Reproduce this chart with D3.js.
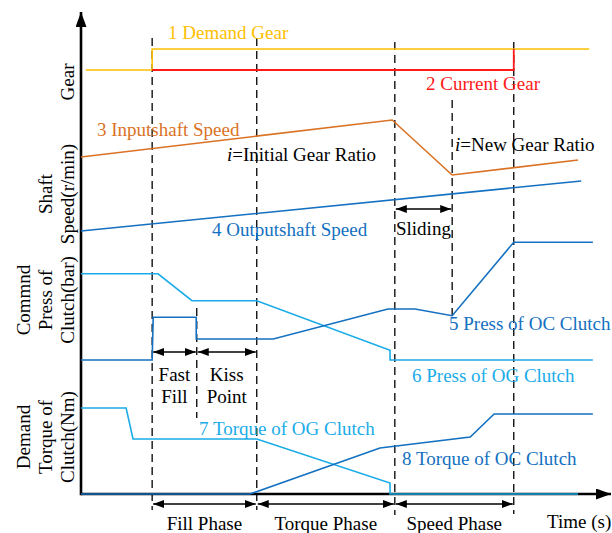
<!DOCTYPE html>
<html>
<head>
<meta charset="utf-8">
<script src="https://cdn.jsdelivr.net/npm/d3@7"></script>
<style>
  html, body { margin: 0; padding: 0; background: #fff; }
  svg { display: block; font-family: "Liberation Serif", "Times New Roman", serif; }
  svg text { font-family: "Liberation Serif", "Times New Roman", serif; }
</style>
</head>
<body>
<svg id="chart" width="612" height="533"></svg>
<script>
// Time is in arbitrary units (0..100) along the shift sequence.
const phaseBounds = [13.4, 33.1, 59.1, 81.5];   // fill start, torque start, speed start, speed end
const kissPointStart = 21.8;
const slidingEnd = 69.9;

// Gear panel
const demandGear = [[0.9, 1], [13.4, 1], [13.4, 2], [95.7, 2]];
const currentGear = [[13.4, 1], [81.5, 1], [81.5, 2]];

// Shaft speed panel (r/min)
const inputShaftSpeed = [[0, 2060], [58.6, 2800], [69.9, 1700], [93.6, 2000]];
const outputShaftSpeed = [[0, 580], [94.2, 1580]];

// Command pressure panel (bar)
const pressOG = [[0, 11.5], [14.5, 11.5], [20.9, 7.9], [33.1, 7.9], [58.2, 1.3], [58.2, 0], [96.4, 0]];
const pressOC = [[0, 0], [13.4, 0], [13.6, 5.7], [21.7, 5.7], [21.7, 2.8], [36.2, 2.8], [57.8, 6.8],
                 [62.9, 6.8], [69.9, 5.9], [81.5, 15.7], [96.4, 15.7]];

// Demand torque panel (Nm)
const torqueOG = [[0, 86], [8.5, 86], [9.8, 55], [33.1, 55], [58.2, 11], [58.2, 0], [93.6, 0]];
const torqueOC = [[0, 0], [31.8, 0], [56.3, 46], [73.3, 57], [77.8, 80], [96.4, 80]];

const phaseNames = ["Fill Phase", "Torque Phase", "Speed Phase"];

const C = {
  yellow: "#FFC000",
  red: "#FF1A1A",
  orange: "#DA7225",
  blue: "#1470C0",
  cyan: "#1AACE8"
};

const svg = d3.select("#chart");
const FS = 19;

const x = d3.scaleLinear().domain([0, 100]).range([81, 612]);
const yGear = d3.scaleLinear().domain([0, 3]).range([91, 28]);
const ySpeed = d3.scaleLinear().domain([0, 3000]).range([260, 110]);
const yPress = d3.scaleLinear().domain([0, 16]).range([360, 240]);
const yTorque = d3.scaleLinear().domain([0, 100]).range([494, 394]);

const defs = svg.append("defs");
function arrowMarker(id, w, h, orient) {
  defs.append("marker")
    .attr("id", id)
    .attr("viewBox", `0 0 ${w} ${h}`)
    .attr("refX", w).attr("refY", h / 2)
    .attr("markerWidth", w).attr("markerHeight", h)
    .attr("markerUnits", "userSpaceOnUse")
    .attr("orient", orient)
    .append("path")
    .attr("d", `M0,0L${w},${h / 2}L0,${h}Z`)
    .attr("fill", "#000");
}
arrowMarker("axisHead", 15, 11, "auto");
arrowMarker("spanHead", 11, 8, "auto-start-reverse");

// Axes (no ticks, arrow heads at the ends)
const xAxis = svg.append("g").attr("transform", `translate(0,${yTorque(0)})`)
  .call(d3.axisBottom(x).tickValues([]).tickSizeOuter(0));
xAxis.select(".domain").attr("stroke", "#000").attr("stroke-width", 2.6)
  .attr("d", `M${x(0)},0H${x(100) - 1}`).attr("marker-end", "url(#axisHead)");
const yFull = d3.scaleLinear().domain([0, 1]).range([yTorque(0), 12]);
const yAxis = svg.append("g").attr("transform", `translate(${x(0)},0)`)
  .call(d3.axisLeft(yFull).tickValues([]).tickSizeOuter(0));
yAxis.select(".domain").attr("stroke", "#000").attr("stroke-width", 2.6)
  .attr("d", `M0,${yFull(0) + 1.3}V${yFull(1)}`).attr("marker-end", "url(#axisHead)");

// Phase separators
const dashed = svg.append("g")
  .attr("stroke", "#000").attr("stroke-width", 1.3).attr("stroke-dasharray", "8,5").attr("fill", "none");
const sepSpans = [[38, 510], [38, 510], [42, 515], [42, 514]];
phaseBounds.forEach((t, i) => {
  dashed.append("line").attr("x1", x(t)).attr("x2", x(t))
    .attr("y1", sepSpans[i][0]).attr("y2", sepSpans[i][1]);
});
dashed.append("line").attr("x1", x(kissPointStart)).attr("x2", x(kissPointStart))
  .attr("y1", 308).attr("y2", 418);
dashed.append("line").attr("x1", x(slidingEnd)).attr("x2", x(slidingEnd))
  .attr("y1", 100).attr("y2", yPress(5.9));

// Series
function series(data, yScale, color, width) {
  svg.append("path")
    .datum(data)
    .attr("fill", "none")
    .attr("stroke", color)
    .attr("stroke-width", width || 1.6)
    .attr("stroke-linejoin", "miter")
    .attr("d", d3.line().x(d => x(d[0])).y(d => yScale(d[1])));
}
series(demandGear, yGear, C.yellow, 1.6);
series(currentGear, yGear, C.red, 1.8);
series(inputShaftSpeed, ySpeed, C.orange);
series(outputShaftSpeed, ySpeed, C.blue);
series(pressOG, yPress, C.cyan);
series(pressOC, yPress, C.blue);
series(torqueOG, yTorque, C.cyan, 1.6);
series(torqueOC, yTorque, C.blue);

// Span arrows
function span(t0, t1, yPix) {
  svg.append("line")
    .attr("x1", x(t0) + 1).attr("x2", x(t1) - 1)
    .attr("y1", yPix).attr("y2", yPix)
    .attr("stroke", "#000").attr("stroke-width", 1.5)
    .attr("marker-start", "url(#spanHead)").attr("marker-end", "url(#spanHead)");
}
span(phaseBounds[2], slidingEnd, 209);
span(phaseBounds[0], kissPointStart, 352);
span(kissPointStart, phaseBounds[1], 352);
for (let i = 0; i < 3; i++) span(phaseBounds[i], phaseBounds[i + 1], 504);

// Text
function label(txt, xp, yp, color, anchor) {
  return svg.append("text").attr("x", xp).attr("y", yp)
    .attr("fill", color || "#000").attr("font-size", FS)
    .attr("text-anchor", anchor || "start").text(txt);
}
label("1 Demand Gear", 168, 39, C.yellow);
label("2 Current Gear", 426, 90, C.red);
label("3 Inputshaft Speed", 97, 136, C.orange);
const ig = label("", 227, 161);
ig.append("tspan").attr("font-style", "italic").text("i");
ig.append("tspan").text("=Initial Gear Ratio");
const ng = label("", 455, 151);
ng.append("tspan").attr("font-style", "italic").text("i");
ng.append("tspan").text("=New Gear Ratio");
label("4 Outputshaft Speed", 212, 236, C.blue);
label("Sliding", 396, 235);
label("5 Press of OC Clutch", 449, 330, C.blue);
label("6 Press of OG Clutch", 412, 382, C.cyan);
label("Fast", x((phaseBounds[0] + kissPointStart) / 2), 381, "#000", "middle");
label("Fill", x((phaseBounds[0] + kissPointStart) / 2), 403, "#000", "middle");
label("Kiss", x((kissPointStart + phaseBounds[1]) / 2), 381, "#000", "middle");
label("Point", x((kissPointStart + phaseBounds[1]) / 2), 403, "#000", "middle");
label("7 Torque of OG Clutch", 199, 435, C.cyan);
label("8 Torque of OC Clutch", 402, 465, C.blue);
phaseNames.forEach((n, i) => {
  label(n, x((phaseBounds[i] + phaseBounds[i + 1]) / 2), 530, "#000", "middle");
});
label("Time (s)", 547, 528);

// Rotated panel titles
function vlabel(lines, cy) {
  const xs = [30, 52, 74].slice(3 - lines.length);
  lines.forEach((l, i) => {
    svg.append("text")
      .attr("transform", `translate(${xs[i]},${cy}) rotate(-90)`)
      .attr("text-anchor", "middle").attr("font-size", FS).attr("fill", "#000")
      .text(l);
  });
}
vlabel(["Gear"], 82);
vlabel(["Shaft", "Speed(r/min)"], 194);
vlabel(["Commnd", "Press of", "Clutch(bar)"], 300);
vlabel(["Demand", "Torque of", "Clutch(Nm)"], 437);
</script>
</body>
</html>
